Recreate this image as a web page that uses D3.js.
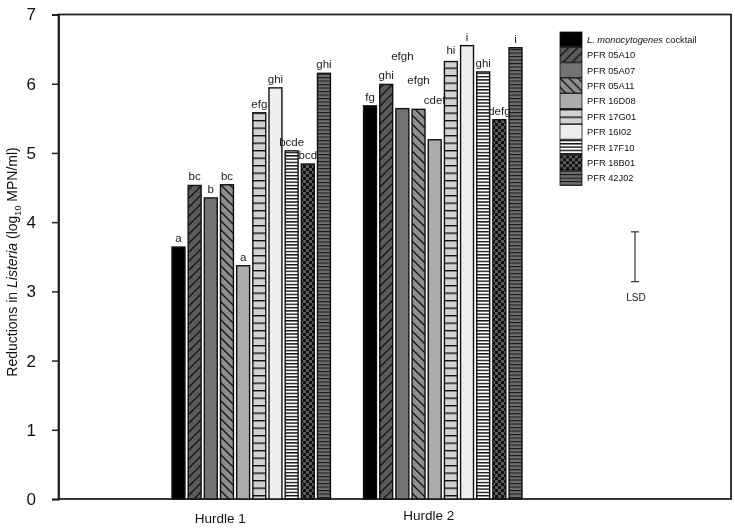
<!DOCTYPE html>
<html>
<head>
<meta charset="utf-8">
<script src="https://cdn.jsdelivr.net/npm/d3@7"></script>
<style>
  html, body { margin: 0; padding: 0; background: #fff; }
  svg { display: block; font-family: "Liberation Sans", Arial, sans-serif; will-change: transform; }
</style>
</head>
<body>
<svg id="chart" width="735" height="529"></svg>
<script>
// ---------- data ----------
const hurdles = ["Hurdle 1", "Hurdle 2"];
const strains = ["L. monocytogenes cocktail", "PFR 05A10", "PFR 05A07", "PFR 05A11", "PFR 16D08",
                 "PFR 17G01", "PFR 16I02", "PFR 17F10", "PFR 18B01", "PFR 42J02"];
const hurdle1Values = [3.64, 4.53, 4.35, 4.54, 3.37, 5.58, 5.94, 5.03, 4.84, 6.15];
const hurdle2Values = [5.68, 5.99, 5.64, 5.63, 5.19, 6.32, 6.55, 6.17, 5.48, 6.52];
const hurdle1Letters = ["a", "bc", "b", "bc", "a", "efg", "ghi", "bcde", "bcd", "ghi"];
const hurdle2Letters = ["fg", "ghi", "efgh", "efgh", "cdef", "hi", "i", "ghi", "defg", "i"];
const lsdValue = 0.72;
const lsdCentre = 3.5;
const yTicks = [0, 1, 2, 3, 4, 5, 6, 7];

// ---------- layout ----------
const svg = d3.select("#chart");
const L = 58.5, R = 731, T = 14.5, B = 499;

const y = d3.scaleLinear().domain([0, 7]).range([B, T]);
const x0 = d3.scaleBand().domain(hurdles).range([172, 522]).paddingInner(0.173).paddingOuter(0);
const x1 = d3.scaleBand().domain(strains).range([0, x0.bandwidth()]).paddingInner(0.2).paddingOuter(0);

// ---------- patterns ----------
const defs = svg.append("defs");
function pat(id, w, h, build) {
  const p = defs.append("pattern").attr("id", id).attr("patternUnits", "userSpaceOnUse")
    .attr("width", w).attr("height", h);
  build(p);
}
pat("p1", 9, 9, p => {
  p.append("rect").attr("width", 9).attr("height", 9).attr("fill", "#5b5b5b");
  p.append("path").attr("d", "M0,9 L9,0 M-2,2 L2,-2 M7,11 L11,7").attr("stroke", "#111").attr("stroke-width", 1.3);
});
pat("p3", 9, 9, p => {
  p.append("rect").attr("width", 9).attr("height", 9).attr("fill", "#8e8e8e");
  p.append("path").attr("d", "M0,0 L9,9 M-2,7 L2,11 M7,-2 L11,2").attr("stroke", "#111").attr("stroke-width", 1.3);
});
pat("p5", 10, 7.5, p => {
  p.append("rect").attr("width", 10).attr("height", 7.5).attr("fill", "#d2d2d2");
  p.append("rect").attr("y", 0).attr("width", 10).attr("height", 1.4).attr("fill", "#111");
});
pat("p7", 10, 3.3, p => {
  p.append("rect").attr("width", 10).attr("height", 3.3).attr("fill", "#fff");
  p.append("rect").attr("y", 0).attr("width", 10).attr("height", 1.4).attr("fill", "#111");
});
pat("p8", 6, 6, p => {
  p.append("rect").attr("width", 6).attr("height", 6).attr("fill", "#5a5a5a");
  p.append("rect").attr("width", 3).attr("height", 3).attr("fill", "#111");
  p.append("rect").attr("x", 3).attr("y", 3).attr("width", 3).attr("height", 3).attr("fill", "#111");
});
pat("p9", 10, 3.5, p => {
  p.append("rect").attr("width", 10).attr("height", 3.5).attr("fill", "#6e6e6e");
  p.append("rect").attr("y", 0).attr("width", 10).attr("height", 1.1).attr("fill", "#1a1a1a");
});
const fills = ["#000000", "url(#p1)", "#737373", "url(#p3)", "#ababab",
               "url(#p5)", "#eeeeee", "url(#p7)", "url(#p8)", "url(#p9)"];
const fillOf = d3.scaleOrdinal().domain(strains).range(fills);

// ---------- frame ----------
svg.append("rect").attr("x", L).attr("y", T).attr("width", R - L).attr("height", B - T)
  .attr("fill", "none").attr("stroke", "#222").attr("stroke-width", 1.8);

// ---------- y axis ----------
const yAxis = svg.append("g").attr("transform", `translate(${L},0)`)
  .call(d3.axisLeft(y).tickValues(yTicks).tickFormat(d3.format("d")).tickSize(6.5).tickPadding(16));
yAxis.select(".domain").attr("stroke", "#222").attr("stroke-width", 1.8);
yAxis.selectAll(".tick line").attr("stroke", "#222").attr("stroke-width", 1.5);
yAxis.selectAll(".tick text").attr("font-size", 17).attr("fill", "#111")
  .attr("font-family", "Liberation Sans, Arial, sans-serif");

// y title
const yt = svg.append("text").attr("transform", "translate(17,262) rotate(-90)")
  .attr("text-anchor", "middle").attr("font-size", 14).attr("fill", "#111");
yt.append("tspan").text("Reductions in ");
yt.append("tspan").attr("font-style", "italic").text("Listeria");
yt.append("tspan").text(" (log");
yt.append("tspan").attr("font-size", 9).attr("dy", 4).text("10");
yt.append("tspan").attr("dy", -4).text(" MPN/ml)");

// ---------- bars ----------
const rows = [];
hurdles.forEach((h, hi) => {
  const vals = hi === 0 ? hurdle1Values : hurdle2Values;
  const lets = hi === 0 ? hurdle1Letters : hurdle2Letters;
  strains.forEach((s, si) => rows.push({ hurdle: h, strain: s, value: vals[si], letter: lets[si], hi, si }));
});

svg.append("g").selectAll("rect").data(rows).join("rect")
  .attr("x", d => x0(d.hurdle) + x1(d.strain))
  .attr("y", d => y(d.value))
  .attr("width", x1.bandwidth())
  .attr("height", d => y(0) - y(d.value))
  .attr("fill", d => fillOf(d.strain))
  .attr("stroke", "#111").attr("stroke-width", 1.4);

// letters (a few lifted in the original to avoid overlap)
const lift = { "1-2": 44, "1-3": 20, "1-4": 31, "1-5": 3 };
svg.append("g").selectAll("text").data(rows).join("text")
  .attr("x", d => x0(d.hurdle) + x1(d.strain) + x1.bandwidth() / 2)
  .attr("y", d => y(d.value) - 5 - (lift[d.hi + "-" + d.si] || 0))
  .attr("text-anchor", "middle").attr("font-size", 11.5).attr("fill", "#222")
  .text(d => d.letter);

// hurdle labels
const hurdleOffset = { "Hurdle 1": [-31, 523], "Hurdle 2": [-14, 520] };
svg.append("g").selectAll("text").data(hurdles).join("text")
  .attr("x", d => x0(d) + x0.bandwidth() / 2 + hurdleOffset[d][0])
  .attr("y", d => hurdleOffset[d][1])
  .attr("text-anchor", "middle").attr("font-size", 13.5).attr("fill", "#111")
  .text(d => d);

// ---------- LSD ----------
const lx = 635;
const lsd = svg.append("g").attr("stroke", "#333").attr("stroke-width", 1.2);
lsd.append("line").attr("x1", lx).attr("x2", lx)
  .attr("y1", y(lsdCentre + lsdValue / 2)).attr("y2", y(lsdCentre - lsdValue / 2));
lsd.append("line").attr("x1", lx - 4).attr("x2", lx + 4)
  .attr("y1", y(lsdCentre + lsdValue / 2)).attr("y2", y(lsdCentre + lsdValue / 2));
lsd.append("line").attr("x1", lx - 4).attr("x2", lx + 4)
  .attr("y1", y(lsdCentre - lsdValue / 2)).attr("y2", y(lsdCentre - lsdValue / 2));
svg.append("text").attr("x", lx + 1).attr("y", y(lsdCentre - lsdValue / 2) + 19)
  .attr("text-anchor", "middle").attr("font-size", 10).attr("fill", "#222").text("LSD");

// ---------- legend ----------
const leg = svg.append("g").attr("transform", "translate(560,32)");
const rowH = 15.4;
const li = leg.selectAll("g").data(strains).join("g")
  .attr("transform", (d, i) => `translate(0,${i * rowH})`);
li.append("rect").attr("width", 22).attr("height", rowH - 0.6)
  .attr("fill", d => fillOf(d)).attr("stroke", "#111").attr("stroke-width", 0.8);
li.append("text").attr("x", 27).attr("y", rowH / 2 + 3.2).attr("font-size", 9.3).attr("fill", "#111")
  .each(function (d, i) {
    const t = d3.select(this);
    if (i === 0) {
      t.append("tspan").attr("font-style", "italic").text("L. monocytogenes");
      t.append("tspan").text(" cocktail");
    } else t.text(d);
  });
</script>
</body>
</html>
